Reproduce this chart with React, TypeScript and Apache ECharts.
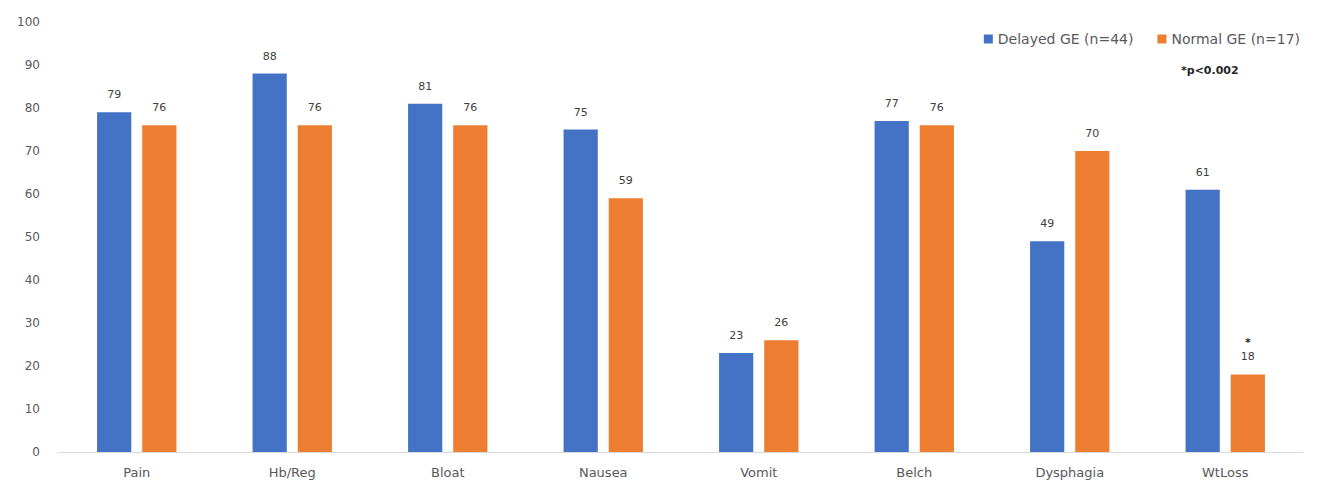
import React, { useEffect, useRef } from "react";
import * as echarts from "echarts";

const categories = ["Pain", "Hb/Reg", "Bloat", "Nausea", "Vomit", "Belch", "Dysphagia", "WtLoss"];
const delayedValues = [79, 88, 81, 75, 23, 77, 49, 61];
const normalValues = [76, 76, 76, 59, 26, 76, 70, 18];
const significant = [false, false, false, false, false, false, false, true];
const yTicks = { min: 0, max: 100, interval: 10 };

export default function App() {
  const ref = useRef<HTMLDivElement>(null);
  useEffect(() => {
    if (!ref.current) return;
    const chart = echarts.init(ref.current, null, { renderer: "svg" });
    const labelStyle = { color: "#404040", fontSize: 11, fontFamily: "DejaVu Sans" };
    chart.setOption({
      animation: false,
      textStyle: { fontFamily: "DejaVu Sans" },
      legend: {
        top: 27,
        right: 15,
        itemWidth: 9,
        itemHeight: 9,
        itemGap: 24,
        icon: "rect",
        textStyle: { color: "#595959", fontSize: 14, fontFamily: "DejaVu Sans" },
        data: ["Delayed GE (n=44)", "Normal GE (n=17)"],
      },
      graphic: [
        {
          type: "text",
          left: 1181,
          top: 65,
          style: { text: "*p<0.002", fill: "#262626", font: "bold 11px 'DejaVu Sans'" },
        },
      ],
      grid: { left: 59, right: 17, top: 22, bottom: 36 },
      xAxis: {
        type: "category",
        data: categories,
        axisLine: { lineStyle: { color: "#d9d9d9", width: 1 } },
        axisTick: { show: false },
        axisLabel: { color: "#595959", fontSize: 13, margin: 14, fontFamily: "DejaVu Sans" },
      },
      yAxis: {
        type: "value",
        min: yTicks.min,
        max: yTicks.max,
        interval: yTicks.interval,
        splitLine: { show: false },
        axisLine: { show: false },
        axisTick: { show: false },
        axisLabel: { color: "#595959", fontSize: 12, margin: 19, fontFamily: "DejaVu Sans" },
      },
      series: [
        {
          name: "Delayed GE (n=44)",
          type: "bar",
          data: delayedValues,
          barWidth: "22%",
          barGap: "32%",
          itemStyle: { color: "#4472C4" },
          label: { show: true, position: "top", distance: 12, ...labelStyle },
        },
        {
          name: "Normal GE (n=17)",
          type: "bar",
          data: normalValues.map((v, i) => ({
            value: v,
            label: significant[i]
              ? {
                  distance: 11,
                  formatter: "{s|*}\n{v|" + v + "}",
                  rich: {
                    s: { fontSize: 11, color: "#262626", fontWeight: "bold", lineHeight: 15 },
                    v: { ...labelStyle, lineHeight: 14 },
                  },
                }
              : undefined,
          })),
          barWidth: "22%",
          itemStyle: { color: "#ED7D31" },
          label: { show: true, position: "top", distance: 12, ...labelStyle },
        },
      ],
    });
    return () => chart.dispose();
  }, []);
  return <div ref={ref} style={{ width: 1320, height: 488, position: "absolute", left: 0, top: 0 }} />;
}
